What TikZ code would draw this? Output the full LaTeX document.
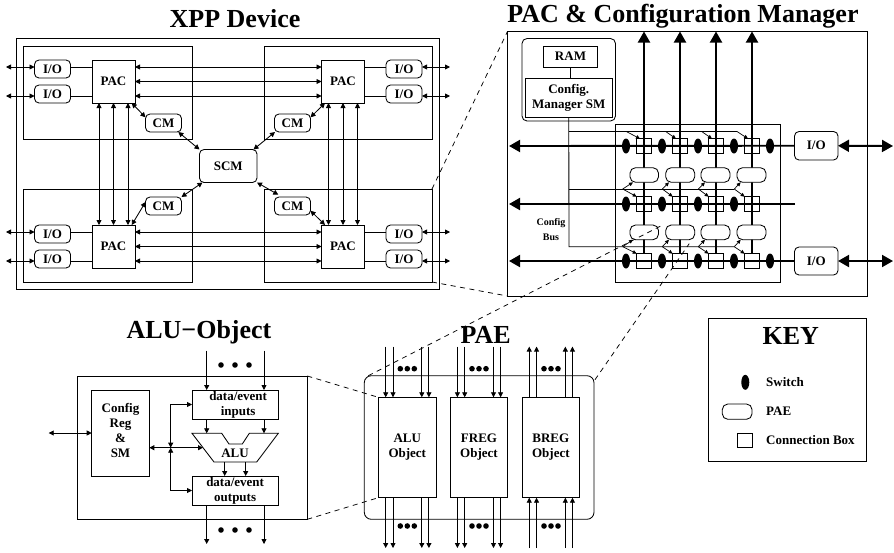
\documentclass[tikz,border=0pt]{standalone}
\usepackage{fontspec}
\setmainfont{Liberation Serif}
\usetikzlibrary{arrows.meta,shapes.geometric,calc}
\tikzset{
  base/.style={line width=0.85pt,draw=black,inner sep=0pt,outer sep=0pt,font=\fontsize{13}{15}\selectfont\bfseries,align=center},
  plain/.style={base},
  round/.style={base,rounded corners=4.5pt,fill=white},
  solidwhite/.style={base,fill=white},
  title/.style={inner sep=0pt,font=\fontsize{26}{28}\selectfont\bfseries},
  thin line/.style={line width=0.85pt},
  sm/.style={line width=0.85pt,>={Triangle[length=5pt,width=5pt]}},
  fine/.style={line width=0.7pt,>={Triangle[length=4pt,width=3.6pt]}},
  heavy/.style={line width=1.9pt,>={Triangle[length=11pt,width=12pt]}},
  dash line/.style={line width=0.75pt,dash pattern=on 5pt off 4.5pt},
  swnode/.style={ellipse,fill=black,draw=none,inner sep=0pt,minimum width=8pt,minimum height=15pt},
  dotnode/.style={circle,fill=black,draw=none,inner sep=0pt,minimum size=5.6pt},
  small/.style={inner sep=0pt,font=\fontsize{10}{14.7}\selectfont\bfseries,align=center},
  keytext/.style={inner sep=0pt,anchor=west,font=\fontsize{13}{15}\selectfont\bfseries},
}
\newcommand{\placebox}[7]{%
  \pgfmathsetmacro{\bcx}{((#3)+(#5))/2}%
  \pgfmathsetmacro{\bcy}{((#4)+(#6))/2}%
  \pgfmathsetmacro{\bw}{(#5)-(#3)}%
  \pgfmathsetmacro{\bh}{(#6)-(#4)}%
  \node[#1,minimum width=\bw pt,minimum height=\bh pt] (#2) at (\bcx,\bcy) {#7};%
}
\begin{document}
\begin{tikzpicture}[x=1pt,y=-1pt]
\useasboundingbox[fill=white] (0,0) rectangle (894,552);

% ---------- XPP device
\node[title] (tXPP) at (235,19) {XPP Device};
\placebox{plain}{xpp}{16.5}{38.5}{439.5}{289.5}{}
\foreach \n/\sa/\sb/\sc/\sd/\px/\py/\iox/\cmx/\cmy/\ioa/\iob in {
  A/23/46/192/139/92/60/34.5/145.5/114/60/85,
  B/264/46/432/139/321.5/60/386/274.5/114/60/85,
  C/23/189/192/282/92/225/34.5/145.5/197/225/250,
  D/264/189/432/282/321.5/225/386/274.5/197/225/250}{
  \placebox{plain}{sub\n}{\sa}{\sb}{\sc}{\sd}{}
  \placebox{solidwhite}{pac\n}{\px}{\py}{\px+43}{\py+43}{PAC}
  \placebox{round}{io\n1}{\iox}{\ioa}{\iox+36}{\ioa+18}{I/O}
  \placebox{round}{io\n2}{\iox}{\iob}{\iox+36}{\iob+18}{I/O}
  \placebox{round}{cm\n}{\cmx}{\cmy}{\cmx+36}{\cmy+18}{CM}
}
\placebox{round}{scm}{199.5}{149.5}{257}{182.5}{SCM}

\foreach \n/\ps/\ii/\io/\dx in {A/west/east/west/-28.5,C/west/east/west/-28.5,B/east/west/east/28,D/east/west/east/28}{
  \coordinate (ext\n1) at ([xshift=\dx pt,yshift=2pt]io\n1.\io);
  \coordinate (ext\n2) at ([xshift=\dx pt,yshift=-2pt]io\n2.\io);
  \draw[thin line] ([yshift=2pt]io\n1.\ii) -- ([yshift=14.5pt]pac\n.\ps);
  \draw[thin line] ([yshift=-2pt]io\n2.\ii) -- ([yshift=-14.5pt]pac\n.\ps);
  \draw[sm,<->] (ext\n1) -- ([yshift=2pt]io\n1.\io);
  \draw[sm,<->] (ext\n2) -- ([yshift=-2pt]io\n2.\io);
}
\foreach \s in {14.5,0,-14.5}{
  \draw[sm,<->] ([yshift=\s pt]pacA.east) -- ([yshift=\s pt]pacB.west);
  \draw[sm,<->] ([yshift=\s pt]pacC.east) -- ([yshift=\s pt]pacD.west);
  \draw[sm,<->] ([xshift=\s pt]pacA.south) -- ([xshift=\s pt]pacC.north);
  \draw[sm,<->] ([xshift=\s pt]pacB.south) -- ([xshift=\s pt]pacD.north);
}
% PAC - CM - SCM
\draw[sm,<->] ([xshift=-3.3pt]pacA.south east) -- ([yshift=-3.3pt]cmA.north west);
\draw[sm,<->] ([xshift=-3.2pt]cmA.south east) -- (scm.north west);
\draw[sm,<->] ([xshift=3.5pt]pacB.south west) -- ([yshift=-3.3pt]cmB.north east);
\draw[sm,<->] ([xshift=0.5pt]cmB.south west) -- ([xshift=-3.5pt]scm.north east);
\draw[sm,<->] ([xshift=-3.3pt]pacC.north east) -- ([yshift=-5pt]cmC.north west);
\draw[sm,<->] (cmC.north east) -- ([xshift=3pt]scm.south west);
\draw[sm,<->] ([xshift=3.5pt]pacD.north west) -- ([yshift=4.3pt]cmD.south east);
\draw[sm,<->] (scm.south east) -- ([xshift=3.8pt,yshift=2.3pt]cmD.north west);

% ---------- PAC & Configuration manager
\node[title] (tPAC) at (683,16) {PAC \& Configuration Manager};
\placebox{plain}{pacbox}{507.5}{31.5}{867}{296}{}
\placebox{plain}{inner}{615.5}{124.5}{780.5}{282}{}
\placebox{plain,rounded corners=5pt}{cfgwrap}{522}{38.5}{615.5}{121}{}
\placebox{plain}{ram}{543.5}{46}{597.5}{67}{RAM}
\placebox{plain}{csm}{525.5}{78}{612}{117}{Config.\\Manager SM}
\draw[thin line] (ram.south) -- (ram.south |- csm.north);

\foreach \c/\x in {1/644,2/680,3/716,4/752}{
  \foreach \r/\y in {1/146,2/204,3/261}{
    \placebox{plain}{cb\r\c}{\x-7.3}{\y-7.3}{\x+7.3}{\y+7.3}{}
  }
  \coordinate (top\c) at (\x,31.5);
  \draw[heavy,->] (cb3\c.north) -- (top\c);
}
\placebox{round}{ioP1}{794.5}{131.5}{838}{160}{I/O}
\placebox{round}{ioP2}{794.5}{247}{838}{275}{I/O}
\coordinate (leftA) at (509,146);
\coordinate (leftB) at (509,204);
\coordinate (leftC) at (509,261);
\coordinate (midEnd) at (795,204);
\coordinate (rightA) at (893,146);
\coordinate (rightC) at (893,261);
\draw[heavy,->] (ioP1.west) -- (leftA);
\draw[heavy,->] (midEnd) -- (leftB);
\draw[heavy,->] (ioP2.west) -- (leftC);
\draw[heavy,<->] (ioP1.east) -- (rightA);
\draw[heavy,<->] (ioP2.east) -- (rightC);

\foreach \x[count=\c] in {626,662,698,734,770}{
  \node[swnode] (swA\c) at (\x,146) {};
  \node[swnode] (swC\c) at (\x,261) {};
}
\foreach \x[count=\c] in {626,662,698,734}{
  \node[swnode] (swB\c) at (\x,204) {};
}
\foreach \c/\xa/\xb in {1/630/658.5,2/665.7/694.7,3/701/730,4/737/766}{
  \placebox{round,rounded corners=5.5pt}{pae1\c}{\xa}{167.7}{\xb}{182.3}{}
  \placebox{round,rounded corners=5.5pt}{pae2\c}{\xa}{225}{\xb}{239.7}{}
}

% config bus
\coordinate (busT) at (569,131.5);
\coordinate (busTR) at (736.7,131.5);
\coordinate (busM) at (569,189);
\coordinate (busMR) at (734.3,189);
\coordinate (busB) at (569,246.7);
\coordinate (busBR) at (734.3,246.7);
\draw[thin line] (csm.south) -- (busB) -- (busBR);
\draw[thin line] (busT) -- (busTR);
\draw[thin line] (busM) -- (busMR);
\foreach \c/\xt/\xm/\sh in {1/626.3/622.7/3,2/665.7/662.3/3.3,3/701.7/698.3/4,4/737/734.3/3.7}{
  \coordinate (tapT\c) at (\xt,131.5);
  \coordinate (tapM\c) at (\xm,189);
  \coordinate (tapB\c) at (\xm,246.7);
  \draw[fine,->] (tapT\c) -- ([xshift=-4pt]cb1\c.north);
  \draw[fine,->] (tapM\c) -- ([xshift=\sh pt]pae1\c.south west);
  \draw[fine,->] (tapM\c) -- (cb2\c.north west);
  \draw[fine,->] (tapB\c) -- ([xshift=\sh pt]pae2\c.south west);
  \draw[fine,->] (tapB\c) -- (cb3\c.north west);
}
\node[small] (cfgbus) at (551,229.5) {Config\\Bus};

% ---------- ALU object
\node[title] (tALU) at (199,332) {ALU−Object};
\placebox{plain}{alubox}{77.3}{376}{307.3}{519.3}{}
\placebox{plain,label={[align=center,inner sep=0pt,font=\fontsize{13}{15}\selectfont\bfseries,yshift=2.5pt]center:Config\\Reg\\\&\\SM}}{cfg}{91.7}{390}{149.3}{476}{}
\placebox{plain}{dataIn}{192}{390}{278.3}{419}{\hspace*{6pt}data/event\\\hspace*{6pt}inputs}
\placebox{plain}{dataOut}{192}{476}{278.3}{505}{data/event\\outputs}
\draw[thin line] (192,433.3) -- (221.7,433.3) -- (229,444) -- (242.3,444) -- (249.3,433.3) -- (278.3,433.3) -- (256.7,462) -- (214,462) -- cycle;
\node[inner sep=0pt,font=\fontsize{13}{15}\selectfont\bfseries] (alu) at (235,453.5) {ALU};
\coordinate (inA) at (206.7,350.5);
\coordinate (inB) at (264,350.5);
\coordinate (outA) at (206.7,544);
\coordinate (outB) at (264,544);
\coordinate (aluA) at (206.7,433.3);
\coordinate (aluB) at (264,433.3);
\coordinate (aluC) at (224.7,462);
\coordinate (aluD) at (245.7,462);
\coordinate (junc) at (170.7,447.7);
\coordinate (aluW) at (203,447.7);
\coordinate (cfgExt) at (48.7,433);
\draw[sm,->] (inA) -- (inA |- dataIn.north);
\draw[sm,->] (inB) -- (inB |- dataIn.north);
\draw[sm,->] (inA |- dataIn.south) -- (aluA);
\draw[sm,->] (inB |- dataIn.south) -- (aluB);
\draw[sm,->] (aluC) -- (aluC |- dataOut.north);
\draw[sm,->] (aluD) -- (aluD |- dataOut.north);
\draw[sm,->] (outA |- dataOut.south) -- (outA);
\draw[sm,->] (outB |- dataOut.south) -- (outB);
\draw[sm,<->] (cfgExt) -- (cfg.west);
\draw[sm,<->] (junc) |- (dataIn.west);
\draw[sm,<->] (junc) |- (dataOut.west);
\draw[sm,<->] (cfg.east |- junc) -- (aluW);
\foreach \x[count=\i] in {221,235,249}{
  \node[dotnode] (aluDotT\i) at (\x,365) {};
  \node[dotnode] (aluDotB\i) at (\x,530) {};
}

% ---------- PAE
\node[title] (tPAE) at (485.7,335) {PAE};
\placebox{plain,rounded corners=7pt}{paebox}{364.3}{375.7}{594}{519.3}{}
\placebox{solidwhite}{objA}{378.3}{397.3}{436.3}{497.7}{ALU\\Object}
\placebox{solidwhite}{objF}{450.3}{397.3}{507.7}{497.7}{FREG\\Object}
\placebox{solidwhite}{objB}{522}{397.3}{579.7}{497.7}{BREG\\Object}
\foreach \o in {A,F,B}{
  \foreach \s[count=\i] in {-21.6,-14.3,14.5,21.6}{
    \coordinate (t\o\i) at ([xshift=\s pt,yshift=50.7pt]obj\o.north);
    \coordinate (b\o\i) at ([xshift=\s pt,yshift=-50.3pt]obj\o.south);
  }
}
\foreach \o in {A,F}{
  \foreach \s[count=\i] in {-21.6,-14.3,14.5,21.6}{
    \draw[sm,->] (t\o\i) -- ([xshift=\s pt]obj\o.north);
    \draw[sm,->] ([xshift=\s pt]obj\o.south) -- (b\o\i);
  }
}
\foreach \s[count=\i] in {-21.6,-14.3,14.5,21.6}{
  \draw[sm,->] ([xshift=\s pt]objB.north) -- (tB\i);
  \draw[sm,->] (bB\i) -- ([xshift=\s pt]objB.south);
}
\foreach \o/\x in {A/407.3,F/479,B/551}{
  \foreach \d[count=\i] in {-7,0,7}{
    \node[dotnode] (dotT\o\i) at (\x+\d,368.7) {};
    \node[dotnode] (dotB\o\i) at (\x+\d,526) {};
  }
}

% ---------- dashed zoom lines
\coordinate (dA) at ([xshift=4pt]paebox.north west);
\coordinate (dB) at ([xshift=-3pt]pae22.north west);
\coordinate (dC) at ([shift={(1pt,-4pt)}]paebox.north east);
\coordinate (dD) at ([shift={(9pt,-4pt)}]pae22.south);
\draw[dash line] (subD.north east) -- (pacbox.north west);
\draw[dash line] (subD.south east) -- (pacbox.south west);
\draw[dash line] (dA) -- (dB);
\draw[dash line] (dC) -- (dD);
\draw[dash line] (alubox.north east) -- (objA.north west);
\draw[dash line] (alubox.south east) -- (objA.south west);

% ---------- key
\placebox{plain}{key}{708.3}{318.3}{866.7}{461.7}{}
\node[title] (tKEY) at (790.7,335.7) {KEY};
\node[swnode] (keySw) at (745.3,382.3) {};
\placebox{round,rounded corners=5.5pt}{keyPae}{722.3}{404}{752}{419.3}{}
\placebox{plain}{keyBox}{737}{433}{752}{447.7}{}
\node[keytext] (keyT1) at (766,382.3) {Switch};
\node[keytext] (keyT2) at (766,411) {PAE};
\node[keytext] (keyT3) at (766,440) {Connection Box};
\end{tikzpicture}
\end{document}
